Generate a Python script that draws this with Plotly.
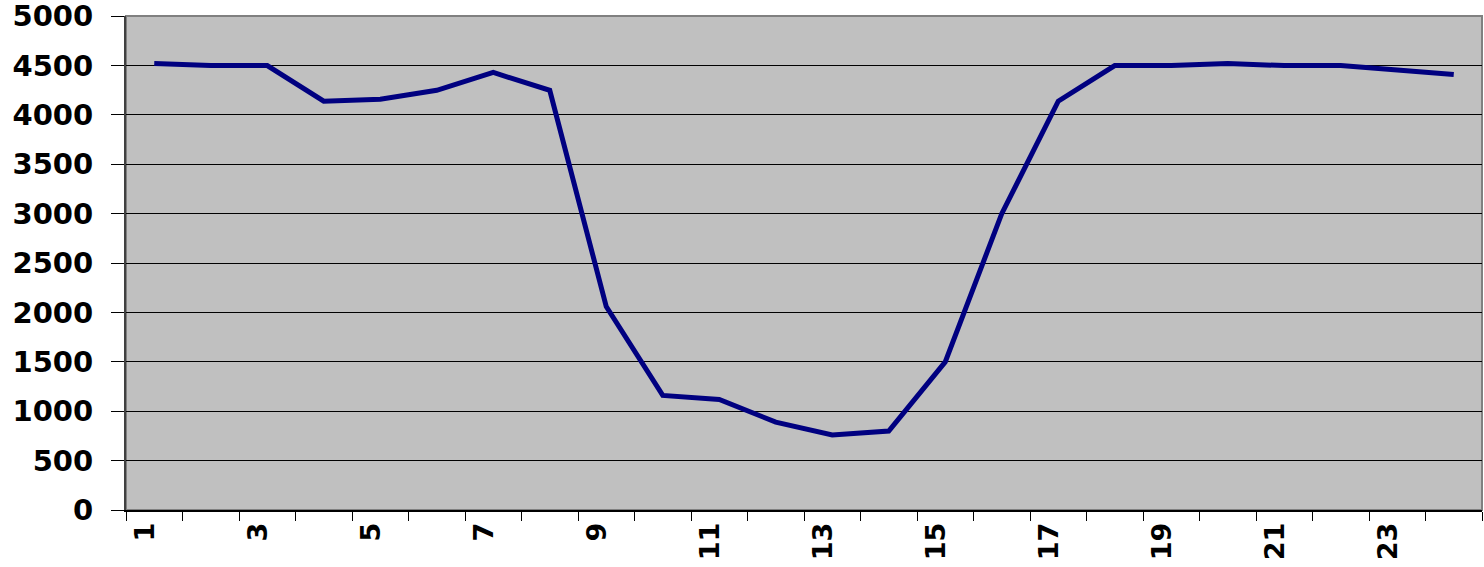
import plotly.graph_objects as go

horas = [str(h) for h in range(1, 25)]
valores = [4520, 4500, 4500, 4140, 4160, 4250, 4430, 4250,
           2060, 1160, 1120, 890, 760, 800, 1500, 3000,
           4140, 4500, 4500, 4520, 4500, 4500, 4455, 4410]
etiquetas_x = [h if int(h) % 2 == 1 else "" for h in horas]
ticks_y = list(range(0, 5001, 500))

fig = go.Figure()
fig.add_trace(go.Scatter(x=horas, y=valores, mode="lines",
                         line=dict(color="#000080", width=5)))

# marco gris del área de trazado
fig.add_shape(type="rect", xref="paper", yref="paper", x0=0, y0=0, x1=1, y1=1,
              line=dict(color="#808080", width=2), layer="below")

fig.update_xaxes(type="category", tickvals=horas, ticktext=etiquetas_x,
                 range=[-0.5, 23.5], automargin=False, ticklabelshift=-9,
                 tickson="boundaries", ticks="outside", ticklen=9, tickcolor="black",
                 tickangle=-90, showgrid=False, showline=True, linecolor="black",
                 linewidth=2, zeroline=False,
                 tickfont=dict(family="DejaVu Sans", size=27, color="black", weight="bold"))
fig.update_yaxes(range=[0, 5002], tickvals=ticks_y, ticks="outside", ticklen=13,
                 automargin=False, ticklabeloverflow="allow",
                 tickcolor="black", showgrid=True, gridcolor="black", gridwidth=1,
                 showline=True, linecolor="#404040", linewidth=2, zeroline=False,
                 ticklabelstandoff=12,
                 tickfont=dict(family="DejaVu Sans", size=29, color="black", weight="bold"))

fig.update_layout(width=1484, height=567, showlegend=False,
                  paper_bgcolor="white", plot_bgcolor="#C0C0C0",
                  font=dict(family="DejaVu Sans", color="black"),
                  margin=dict(l=126, r=2, t=16, b=57))

# quitar el margen por defecto del <body>
fig.write_html("out.html", config={"displayModeBar": False},
               post_script="document.body.style.margin='0';")
